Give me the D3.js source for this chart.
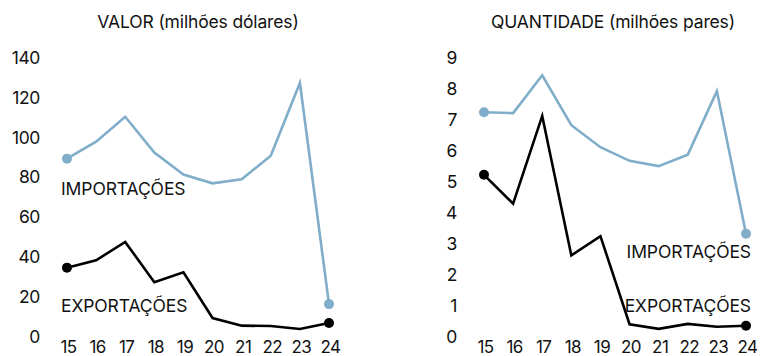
<!DOCTYPE html>
<html>
<head>
<meta charset="utf-8">
<script src="https://cdn.jsdelivr.net/npm/d3@7"></script>
<style>
  html, body { margin: 0; padding: 0; background: #fff; }
  svg { display: block; }
  text { font-family: Inter, "Liberation Sans", sans-serif; fill: #111; }
</style>
</head>
<body>
<div id="chart"></div>
<script>
const years = ["15","16","17","18","19","20","21","22","23","24"];

const valorImport = [89, 97.5, 110, 92, 81, 76.6, 78.6, 90.5, 127, 16];
const valorExport = [34.3, 38, 47.2, 27, 32, 9, 5.2, 5, 3.5, 6.5];
const valorTicks = [0, 20, 40, 60, 80, 100, 120, 140];

const qtdImport = [7.22, 7.19, 8.41, 6.8, 6.09, 5.65, 5.48, 5.85, 7.9, 3.3];
const qtdExport = [5.2, 4.27, 7.1, 2.6, 3.22, 0.38, 0.23, 0.39, 0.3, 0.33];
const qtdTicks = [0, 1, 2, 3, 4, 5, 6, 7, 8, 9];

const W = 763, H = 356;
const BLUE = "#80adc9", BLACK = "#000";

const svg = d3.select("#chart").append("svg").attr("width", W).attr("height", H);

function panel(cfg) {
  const g = svg.append("g");
  const x = d3.scalePoint().domain(years).range(cfg.xr);
  const y = d3.scaleLinear().domain([0, cfg.max]).range([336, 57]);

  g.append("text").attr("x", cfg.titleX).attr("y", 28)
    .attr("text-anchor", "middle").attr("font-size", 17.5).attr("letter-spacing", "-0.15")
    .text(cfg.title);

  const yAxis = d3.axisLeft(y).tickValues(cfg.ticks).tickSize(0).tickPadding(0);
  const ya = g.append("g").attr("transform", `translate(${cfg.yAxisX},0)`).call(yAxis);
  ya.select(".domain").remove();
  ya.selectAll("text").attr("font-size", 17.5).attr("fill", "#111")
    .attr("font-family", "Inter, 'Liberation Sans', sans-serif").attr("letter-spacing", "-0.4").attr("dy", "0.36em");

  const xAxis = d3.axisBottom(x).tickSize(0).tickPadding(0);
  const xa = g.append("g").attr("transform", `translate(${cfg.xLabelDx},341)`).call(xAxis);
  xa.select(".domain").remove();
  xa.selectAll("text").attr("font-size", 17).attr("fill", "#111")
    .attr("font-family", "Inter, 'Liberation Sans', sans-serif").attr("letter-spacing", "-0.6").attr("dy", "0.71em");

  const line = d3.line().x((d, i) => x(years[i])).y(d => y(d));
  [[cfg.imp, BLUE], [cfg.exp, BLACK]].forEach(([data, col]) => {
    g.append("path").datum(data).attr("d", line)
      .attr("fill", "none").attr("stroke", col).attr("stroke-width", 2.6)
      .attr("stroke-linejoin", "miter");
    g.append("circle").attr("cx", x(years[0])).attr("cy", y(data[0])).attr("r", 5).attr("fill", col);
    g.append("circle").attr("cx", x(years[years.length - 1])).attr("cy", y(data[data.length - 1])).attr("r", 5).attr("fill", col);
  });

  cfg.labels.forEach(l => {
    g.append("text").attr("x", l.x).attr("y", l.y).attr("text-anchor", l.anchor)
      .attr("font-size", 17.5).attr("letter-spacing", "-0.1").text(l.text);
  });
}

panel({
  title: "VALOR (milhões dólares)", titleX: 198,
  xr: [67, 329], max: 140, ticks: valorTicks, yAxisX: 40, xLabelDx: 1,
  imp: valorImport, exp: valorExport,
  labels: [
    { text: "IMPORTAÇÕES", x: 61, y: 195, anchor: "start" },
    { text: "EXPORTAÇÕES", x: 61, y: 312, anchor: "start" }
  ]
});

panel({
  title: "QUANTIDADE (milhões pares)", titleX: 613,
  xr: [484, 746], max: 9, ticks: qtdTicks, yAxisX: 457, xLabelDx: 1,
  imp: qtdImport, exp: qtdExport,
  labels: [
    { text: "IMPORTAÇÕES", x: 751, y: 258, anchor: "end" },
    { text: "EXPORTAÇÕES", x: 751, y: 312, anchor: "end" }
  ]
});
</script>
</body>
</html>
